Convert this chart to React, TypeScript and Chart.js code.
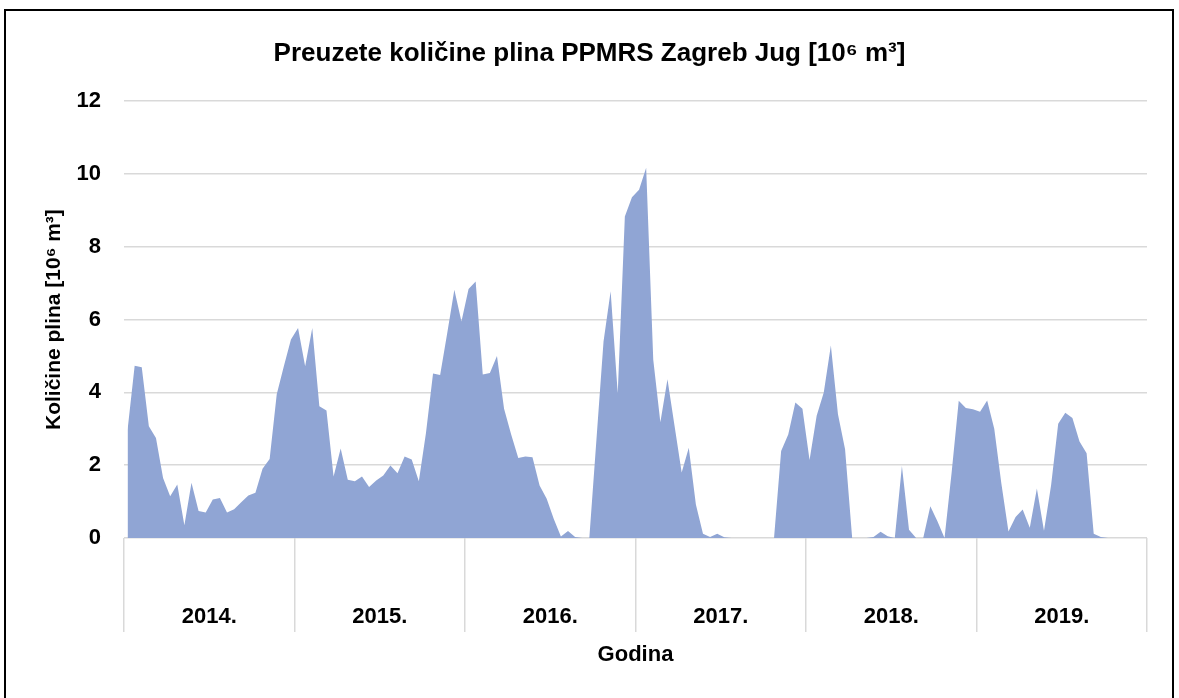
import React, { useEffect, useRef } from 'react';
import { Chart, registerables } from 'chart.js';

Chart.register(...registerables);

const TITLE = 'Preuzete količine plina PPMRS Zagreb Jug [10⁶ m³]';
const Y_TITLE = 'Količine plina [10⁶ m³]';
const X_TITLE = 'Godina';

const years = ['2014.', '2015.', '2016.', '2017.', '2018.', '2019.'];
const yTicks = [0, 2, 4, 6, 8, 10, 12];

// Semi-monthly values (24 per year), 10^6 m3
const v2014 = [2.97, 4.73, 4.69, 3.07, 2.75, 1.65, 1.15, 1.47, 0.35, 1.52, 0.74, 0.70, 1.06, 1.10, 0.70, 0.79, 0.98, 1.17, 1.24, 1.90, 2.17, 3.95, 4.72, 5.45];
const v2015 = [5.77, 4.72, 5.77, 3.62, 3.50, 1.69, 2.46, 1.60, 1.56, 1.69, 1.40, 1.58, 1.72, 1.99, 1.78, 2.24, 2.16, 1.56, 2.88, 4.52, 4.48, 5.63, 6.82, 5.95];
const v2016 = [6.84, 7.05, 4.49, 4.53, 5.00, 3.55, 2.84, 2.20, 2.24, 2.22, 1.44, 1.08, 0.52, 0.04, 0.19, 0.03, 0, 0, 2.70, 5.40, 6.78, 3.98, 8.83, 9.36];
const v2017 = [9.57, 10.17, 4.90, 3.18, 4.36, 3.08, 1.80, 2.48, 0.92, 0.12, 0.03, 0.12, 0.02, 0, 0, 0, 0, 0, 0, 0, 2.39, 2.84, 3.72, 3.55];
const v2018 = [2.14, 3.36, 4.00, 5.29, 3.40, 2.44, 0, 0, 0, 0.03, 0.17, 0.05, 0, 1.98, 0.23, 0, 0, 0.87, 0.46, 0, 1.80, 3.77, 3.57, 3.54];
const v2019 = [3.47, 3.78, 3.00, 1.50, 0.18, 0.58, 0.78, 0.28, 1.36, 0.20, 1.45, 3.14, 3.44, 3.30, 2.65, 2.33, 0.12, 0.03, 0, 0, 0, 0, 0, 0];

const yearSeries = [v2014, v2015, v2016, v2017, v2018, v2019];
const values: number[] = yearSeries.flat();
const periodLabels: string[] = years.flatMap((y, yi) => yearSeries[yi].map((_, k) => `${y} ${k + 1}`));

const FONT = "'Liberation Sans Narrow', 'Liberation Sans', Arial, sans-serif";
const FILL = '#90a5d4';
const GRID = '#d9d9d9';

export default function App() {
  const canvasRef = useRef<HTMLCanvasElement | null>(null);

  useEffect(() => {
    const canvas = canvasRef.current;
    if (!canvas) return;
    const chart = new Chart(canvas, {
      type: 'line',
      data: {
        labels: periodLabels,
        datasets: [
          {
            data: values,
            fill: 'origin',
            backgroundColor: FILL,
            borderWidth: 0,
            borderColor: 'rgba(0,0,0,0)',
            pointRadius: 0,
            tension: 0,
            xAxisID: 'x',
            yAxisID: 'y',
          },
        ],
      },
      options: {
        animation: false,
        responsive: false,
        devicePixelRatio: 1,
        layout: { padding: { left: 0, right: 0, top: 0, bottom: 0 } },
        plugins: {
          legend: { display: false },
          tooltip: { enabled: false },
          title: {
            display: true,
            text: TITLE,
            color: '#000',
            font: { family: FONT, size: 26, weight: 'bold' },
            padding: { top: 38, bottom: 32 },
          },
        },
        scales: {
          x: {
            type: 'category',
            display: false,
            offset: true,
          },
          x2: {
            type: 'category',
            labels: years,
            position: 'bottom',
            offset: true,
            grid: {
              offset: true,
              drawOnChartArea: false,
              drawTicks: true,
              tickLength: 94,
              color: GRID,
              lineWidth: 1.5,
            },
            border: { display: false },
            ticks: {
              color: '#000',
              font: { family: FONT, size: 22, weight: 'bold' },
              padding: -28,
              maxRotation: 0,
              autoSkip: false,
            },
            title: {
              display: true,
              text: X_TITLE,
              color: '#000',
              font: { family: FONT, size: 22, weight: 'bold' },
              padding: { top: 0, bottom: 30 },
            },
            afterFit: (s: any) => {
              s.height = 160;
            },
          },
          y: {
            min: 0,
            max: 12,
            afterBuildTicks: (s: any) => {
              s.ticks = yTicks.map((v) => ({ value: v }));
            },
            ticks: {
              color: '#000',
              font: { family: FONT, size: 22, weight: 'bold' },
              padding: 23,
            },
            grid: { color: GRID, drawTicks: false, lineWidth: 1.5 },
            border: { display: false },
            title: {
              display: true,
              text: Y_TITLE,
              color: '#000',
              font: { family: FONT, size: 21, weight: 'bold' },
              padding: { top: 42, bottom: 0 },
            },
            afterFit: (s: any) => {
              s.width = 124;
            },
          },
          yRight: {
            position: 'right',
            display: true,
            grid: { display: false },
            ticks: { display: false },
            border: { display: false },
            afterFit: (s: any) => {
              s.width = 32;
            },
          },
        },
      },
    } as any);
    return () => chart.destroy();
  }, []);

  return (
    <div
      style={{
        position: 'absolute',
        left: 0,
        top: 0,
        width: 1179,
        height: 698,
        overflow: 'hidden',
        background: '#fff',
      }}
    >
      <canvas
        ref={canvasRef}
        width={1179}
        height={698}
        style={{ position: 'absolute', left: 0, top: 0, width: 1179, height: 698 }}
      />
      <div
        style={{
          position: 'absolute',
          left: 4,
          top: 9,
          width: 1170,
          height: 689,
          boxSizing: 'border-box',
          borderTop: '2px solid #000',
          borderLeft: '2px solid #000',
          borderRight: '2px solid #000',
          pointerEvents: 'none',
        }}
      />
    </div>
  );
}
